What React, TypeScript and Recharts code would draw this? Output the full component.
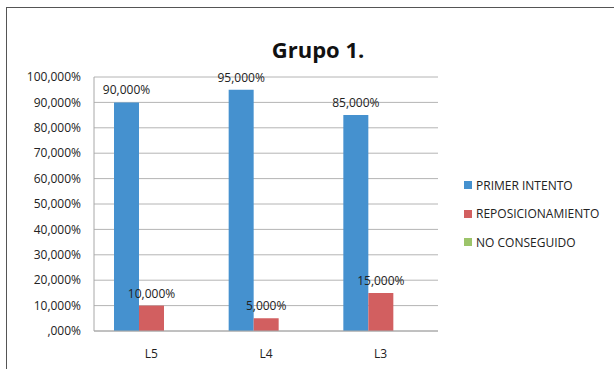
import React from "react";
import { BarChart, Bar, XAxis, YAxis, CartesianGrid, LabelList } from "recharts";

const categories = ["L5", "L4", "L3"];
const primerIntento = [0.9, 0.95, 0.85];
const reposicionamiento = [0.1, 0.05, 0.15];
const noConseguido = [0, 0, 0];
const yTicks = [0, 0.1, 0.2, 0.3, 0.4, 0.5, 0.6, 0.7, 0.8, 0.9, 1];

const series = [
    { key: "primer", name: "PRIMER INTENTO", color: "#4591cf" },
    { key: "repos", name: "REPOSICIONAMIENTO", color: "#d25f60" },
    { key: "noCons", name: "NO CONSEGUIDO", color: "#9cc46a" },
];

const data = categories.map((c, i) => ({
    name: c,
    primer: primerIntento[i],
    repos: reposicionamiento[i],
    noCons: noConseguido[i],
}));

const FONT = "'Open Sans', sans-serif";

// formato estilo Excel: 90,000%  /  ,000%
const pct = (v: number) => {
    const n = Math.round(v * 100);
    return n === 0 ? ",000%" : `${n},000%`;
};

export default function App() {
    const labelStyle = { fontFamily: FONT, fontSize: 12, fill: "#222" };
    return (
        <div style={{ position: "absolute", left: 0, top: 0, width: 614, height: 369, background: "#fff" }}>
            {/* marco del gráfico */}
            <div style={{ position: "absolute", left: 6, top: 7, right: 0, bottom: 0, borderTop: "1.5px solid #555", borderLeft: "1.5px solid #555" }} />
            <div style={{ position: "absolute", left: 0, width: 636, top: 34, textAlign: "center", fontFamily: FONT, fontWeight: 700, fontSize: 22, color: "#111" }}>
                Grupo 1.
            </div>
            <BarChart
                width={614}
                height={369}
                data={data}
                margin={{ top: 77, right: 176, bottom: 8, left: 0 }}
                barGap={0}
                barSize={25}
                style={{ position: "absolute", left: 0, top: 0 }}
            >
                <CartesianGrid vertical={false} stroke="#b4b4b4" />
                <XAxis
                    dataKey="name"
                    height={30}
                    tickLine={false}
                    axisLine={{ stroke: "#a8a8a8" }}
                    tickMargin={12}
                    tick={{ fontFamily: FONT, fontSize: 12, fill: "#222" }}
                />
                <YAxis
                    width={94}
                    domain={[0, 1]}
                    ticks={yTicks}
                    interval={0}
                    tickFormatter={pct}
                    tickLine={false}
                    tickSize={0}
                    tickMargin={13}
                    axisLine={{ stroke: "#a8a8a8" }}
                    tick={{ fontFamily: FONT, fontSize: 12, fill: "#222" }}
                />
                <Bar dataKey="primer" name="PRIMER INTENTO" fill="#4591cf" isAnimationActive={false}>
                    <LabelList dataKey="primer" position="top" offset={8} formatter={(v: any) => pct(v)} style={labelStyle} />
                </Bar>
                <Bar dataKey="repos" name="REPOSICIONAMIENTO" fill="#d25f60" isAnimationActive={false}>
                    <LabelList dataKey="repos" position="top" offset={8} formatter={(v: any) => pct(v)} style={labelStyle} />
                </Bar>
                <Bar dataKey="noCons" name="NO CONSEGUIDO" fill="#9cc46a" isAnimationActive={false} />
            </BarChart>
            {/* leyenda */}
            <div style={{ position: "absolute", left: 464, top: 171, fontFamily: FONT, fontSize: 12, color: "#222" }}>
                {series.map((s) => (
                    <div key={s.key} style={{ display: "flex", alignItems: "center", height: 28.5 }}>
                        <span style={{ width: 8, height: 8, background: s.color, display: "inline-block", marginRight: 4 }} />
                        <span>{s.name}</span>
                    </div>
                ))}
            </div>
        </div>
    );
}
